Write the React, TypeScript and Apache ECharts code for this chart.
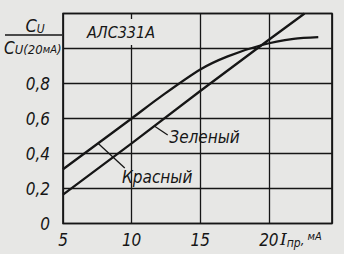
import React, { useEffect, useRef } from "react";
import * as echarts from "echarts";

const redX = [5, 10, 12, 15, 17, 19.5, 21.8, 23.6];
const redY = [0.31, 0.6, 0.718, 0.88, 0.955, 1.02, 1.055, 1.065];
const greenX = [5, 10, 15, 20, 22.6];
const greenY = [0.165, 0.458, 0.757, 1.05, 1.2];
const xTickLabels = [5, 10, 15, 20];
const yTickLabels = ["0", "0,2", "0,4", "0,6", "0,8"];
const redLeader = [[7.55, 0.458], [9.5, 0.317]];
const greenLeader = [[11.68, 0.556], [12.63, 0.506]];
const redLabelAt = [9.3, 0.268];
const greenLabelAt = [12.75, 0.497];

const BG = "#e7e7e5";
const INK = "#161616";
const FONT = '"DejaVu Sans Condensed"';

export default function App() {
  const ref = useRef<HTMLDivElement>(null);
  useEffect(() => {
    document.body.style.margin = "0";
    const chart = echarts.init(ref.current!, null, { renderer: "svg" });
    chart.setOption({
      animation: false,
      backgroundColor: BG,
      grid: {
        left: 63,
        right: 12,
        top: 13.5,
        bottom: 30.5,
        show: true,
        borderColor: INK,
        borderWidth: 1.7,
        backgroundColor: "transparent",
      },
      xAxis: {
        type: "value",
        min: 5,
        max: 24.6,
        interval: 5,
        axisLine: { show: false },
        axisTick: { show: false },
        splitLine: { show: true, lineStyle: { color: INK, width: 1.3 } },
        axisLabel: {
          margin: 8,
          color: INK,
          fontFamily: FONT,
          fontStyle: "italic",
          fontSize: 17,
          formatter: (v: number) => (xTickLabels.includes(v) ? String(v) : ""),
        },
      },
      yAxis: {
        type: "value",
        min: 0,
        max: 1.2,
        interval: 0.2,
        axisLine: { show: false },
        axisTick: { show: false },
        splitLine: { show: true, lineStyle: { color: INK, width: 1.3 } },
        axisLabel: {
          margin: 13,
          color: INK,
          fontFamily: FONT,
          fontStyle: "italic",
          fontSize: 17,
          formatter: (v: number) => yTickLabels[Math.round(v / 0.2)] ?? "",
        },
      },
      series: [
        {
          name: "Красный",
          type: "line",
          data: redX.map((x, i) => [x, redY[i]]),
          symbol: "none",
          smooth: 0.3,
          lineStyle: { color: INK, width: 2.3 },
        },
        {
          name: "Зеленый",
          type: "line",
          data: greenX.map((x, i) => [x, greenY[i]]),
          symbol: "none",
          lineStyle: { color: INK, width: 2.3 },
        },
      ],
    });

    const px = (p: number[]) => chart.convertToPixel({ gridIndex: 0 }, p) as number[];
    const leader = (pts: number[][]) => {
      const a = px(pts[0]);
      const b = px(pts[1]);
      return {
        type: "line",
        shape: { x1: a[0], y1: a[1], x2: b[0], y2: b[1] },
        style: { stroke: INK, lineWidth: 1.3 },
      };
    };
    const rl = px(redLabelAt);
    const gl = px(greenLabelAt);
    const labelFont = `italic 17px ${FONT}`;

    chart.setOption({
      graphic: [
        leader(redLeader),
        leader(greenLeader),
        {
          type: "text",
          style: { text: "Красный", x: rl[0], y: rl[1], align: "left", verticalAlign: "middle", font: labelFont, fill: INK },
        },
        {
          type: "text",
          style: { text: "Зеленый", x: gl[0], y: gl[1], align: "left", verticalAlign: "middle", font: labelFont, fill: INK },
        },
        {
          type: "text",
          style: {
            text: "АЛС331А",
            x: 121,
            y: 32,
            align: "center",
            verticalAlign: "middle",
            font: `italic 16px ${FONT}`,
            fill: INK,
            backgroundColor: BG,
            padding: [5, 4],
          },
        },
        {
          type: "text",
          style: {
            text: "{c|C}{s|U}",
            x: 35,
            y: 25,
            align: "center",
            verticalAlign: "middle",
            fill: INK,
            rich: {
              c: { font: `italic 18px ${FONT}`, fill: INK },
              s: { font: `italic 12px ${FONT}`, fill: INK, padding: [8, 0, 0, 0] },
            },
          },
        },
        {
          type: "line",
          shape: { x1: 5, y1: 35, x2: 62, y2: 35 },
          style: { stroke: INK, lineWidth: 1.3 },
        },
        {
          type: "text",
          style: {
            text: "{c|C}{s|U(20}{m|мА}{s|)}",
            x: 4,
            y: 48,
            align: "left",
            verticalAlign: "middle",
            fill: INK,
            rich: {
              c: { font: `italic 17px ${FONT}`, fill: INK },
              s: { font: `italic 13px ${FONT}`, fill: INK, padding: [3, 0, 0, 0] },
              m: { font: `italic 11px ${FONT}`, fill: INK, padding: [3, 0, 0, 0] },
            },
          },
        },
        {
          type: "text",
          style: {
            text: "{i|I}{s|пр}{c|,}{m| мА}",
            x: 280,
            y: 239,
            align: "left",
            verticalAlign: "middle",
            fill: INK,
            rich: {
              i: { font: 'italic 17px "DejaVu Serif"', fill: INK },
              s: { font: `italic 12px ${FONT}`, fill: INK, padding: [7, 0, 0, 0] },
              c: { font: `italic 13px ${FONT}`, fill: INK, padding: [3, 0, 0, 0] },
              m: { font: `italic 11px ${FONT}`, fill: INK, padding: [0, 0, 5, 0] },
            },
          },
        },
      ],
    });
    return () => chart.dispose();
  }, []);
  return <div ref={ref} style={{ width: 344, height: 254 }} />;
}
